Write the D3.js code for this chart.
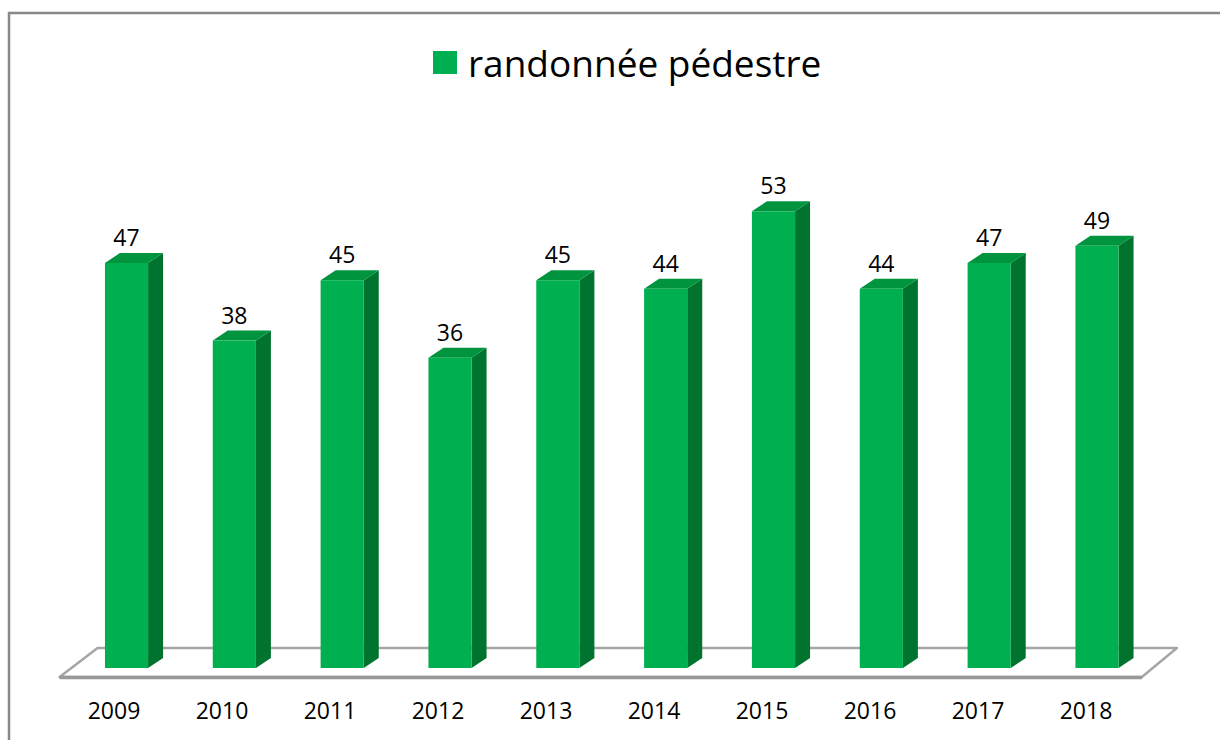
<!DOCTYPE html>
<html>
<head>
<meta charset="utf-8">
<script src="https://cdn.jsdelivr.net/npm/d3@7/dist/d3.min.js"></script>
<style>
  html, body { margin: 0; padding: 0; background: #fff; }
  svg { display: block; }
  text { font-family: "Open Sans", "Noto Sans", sans-serif; fill: #000; }
</style>
</head>
<body>
<svg id="chart" width="1220" height="740"></svg>
<script>
const years = ["2009","2010","2011","2012","2013","2014","2015","2016","2017","2018"];
const values = [47, 38, 45, 36, 45, 44, 53, 44, 47, 49];
const seriesName = "randonnée pédestre";

const W = 1220, H = 740;
const svg = d3.select("#chart");

// frame (top and left lines only)
svg.append("path")
  .attr("d", `M9,${H} L9,13 L${W},13`)
  .attr("fill", "none").attr("stroke", "#888").attr("stroke-width", 2.5);

const baseY = 668;
const x = d3.scaleBand().domain(years).range([72.6, 1150.9]).paddingInner(0.6).paddingOuter(0.3);
const y = d3.scaleLinear().domain([0, 60]).range([baseY, baseY - 60 * 8.617]);
const xl = d3.scalePoint().domain(years).range([114, 1086]);

const dx = 15, dy = 10;
const bw = x.bandwidth();

// floor
const r0 = x.range()[0], r1 = x.range()[1];
const floor = [[r0 + 25, 648], [r1 + 26, 648], [r1 - 9, 677], [r0 - 13, 677]];
svg.append("polygon")
  .attr("points", floor.map(p => p.join(",")).join(" "))
  .attr("fill", "#fff").attr("stroke", "#a6a6a6").attr("stroke-width", 2.5)
  .attr("stroke-linejoin", "round");
svg.append("line")
  .attr("x1", floor[3][0]).attr("x2", floor[2][0])
  .attr("y1", 677.5).attr("y2", 677.5)
  .attr("stroke", "#999").attr("stroke-width", 3.5);

const data = years.map((yr, i) => ({ yr, v: values[i] }));
const bars = svg.append("g").selectAll("g").data(data).join("g");

// side face
bars.append("polygon")
  .attr("points", d => {
    const x0 = x(d.yr) + bw, yt = y(d.v);
    return [[x0, yt], [x0 + dx, yt - dy], [x0 + dx, baseY - dy], [x0, baseY]].map(p => p.join(",")).join(" ");
  })
  .attr("fill", "#00732f");
// top face
bars.append("polygon")
  .attr("points", d => {
    const x0 = x(d.yr), yt = y(d.v);
    return [[x0, yt], [x0 + dx, yt - dy], [x0 + bw + dx, yt - dy], [x0 + bw, yt]].map(p => p.join(",")).join(" ");
  })
  .attr("fill", "#00943f");
// front face
bars.append("rect")
  .attr("x", d => x(d.yr)).attr("y", d => y(d.v))
  .attr("width", bw).attr("height", d => baseY - y(d.v))
  .attr("fill", "#00b050");

// value labels
bars.append("text")
  .attr("x", d => x(d.yr) + bw / 2)
  .attr("y", d => y(d.v) - 17)
  .attr("text-anchor", "middle")
  .attr("font-size", 23)
  .text(d => d.v);

// category labels
svg.append("g").selectAll("text").data(years).join("text")
  .attr("x", d => xl(d)).attr("y", 719)
  .attr("text-anchor", "middle")
  .attr("font-size", 23)
  .text(d => d);

// legend
svg.append("rect").attr("x", 433).attr("y", 51).attr("width", 24).attr("height", 23).attr("fill", "#00b050");
svg.append("text").attr("x", 468).attr("y", 77).attr("font-size", 37).text(seriesName);
</script>
</body>
</html>
